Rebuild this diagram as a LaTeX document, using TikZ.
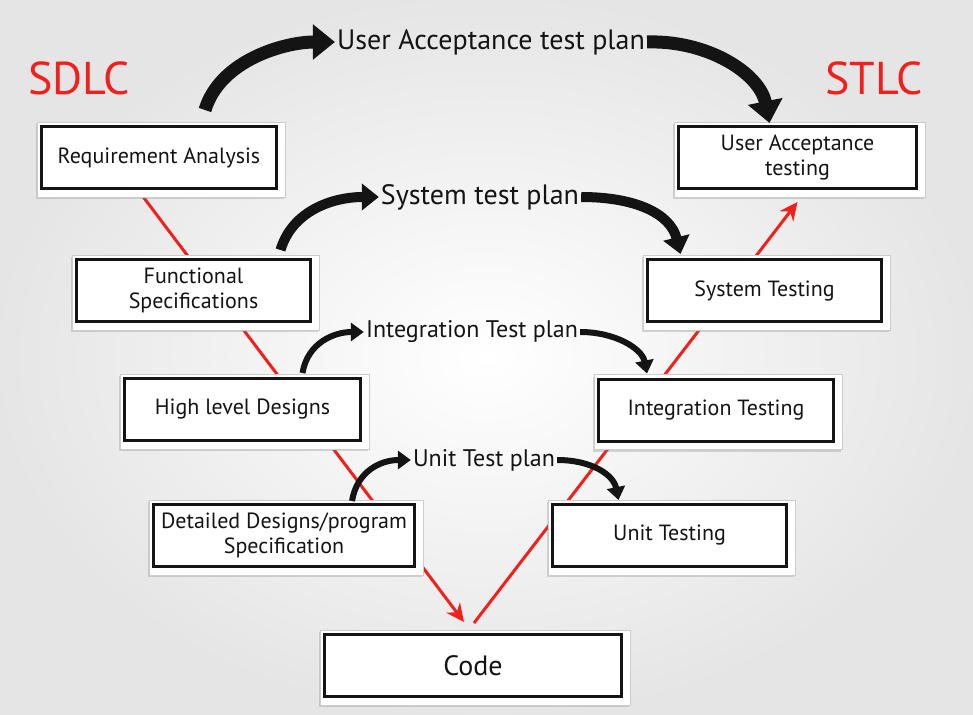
\documentclass[tikz,border=0pt]{standalone}
\usepackage{fontspec}
\setmainfont{PT Sans}
\usetikzlibrary{arrows.meta,calc,fit,shadows}
\pgfdeclarelayer{bgl}\pgfdeclarelayer{lines}\pgfdeclarelayer{paper}
\pgfsetlayers{bgl,lines,paper,main}
\definecolor{vred}{RGB}{240,32,28}
\definecolor{ink}{RGB}{20,20,20}
\tikzset{
 box/.style={draw=ink, line width=3pt, fill=white, align=center, font=\fontsize{22}{25}\selectfont, text=ink, inner sep=2pt, minimum height=62pt},
 paper/.style={fill=white, draw=gray!40, line width=0.7pt, inner sep=5pt, xshift=2pt, yshift=-2pt, drop shadow={shadow xshift=-1.5pt, shadow yshift=-2pt, opacity=0.3}},
 planbig/.style={font=\fontsize{28}{32}\selectfont, text=ink, inner sep=2pt},
 plansmall/.style={font=\fontsize{24}{28}\selectfont, text=ink, inner sep=2pt},
 redline/.style={draw=vred, line width=3pt, -{Stealth[length=18pt,width=17pt]}},
 bigarrow/.style={draw=ink, line width=13pt, -{Triangle[length=22pt,width=34pt]}},
 medarrow/.style={draw=ink, line width=10pt, -{Triangle[length=17pt,width=26pt]}},
 smallarrow/.style={draw=ink, line width=6pt, -{Triangle[length=13pt,width=18pt]}},
 title/.style={font=\fontsize{46}{50}\selectfont, text=vred}
}
\begin{document}
\begin{tikzpicture}[x=1pt,y=-1pt]
\useasboundingbox (0,0) rectangle (973,714);
\begin{pgfonlayer}{bgl}
\shade[inner color=white, outer color=gray!20] (0,0) rectangle (973,714);
\end{pgfonlayer}

\node[title] (sdlc) at (79,78) {SDLC};
\node[title] (stlc) at (874,78) {STLC};

\node[box, minimum width=235pt] (req) at (159,157.5) {Requirement Analysis};
\node[box, minimum width=238pt] (uat) at (797.5,157.5) {User Acceptance\\testing};
\node[box, minimum width=234pt] (fun) at (193.5,290.5) {Functional\\Specifications};
\node[box, minimum width=234pt] (st) at (764.5,290.5) {System Testing};
\node[box, minimum width=236pt] (hld) at (242.5,409.5) {High level Designs};
\node[box, minimum width=235pt] (it) at (716,410) {Integration Testing};
\node[box, minimum width=261pt] (dd) at (284,535.5) {Detailed Designs/program\\Specification};
\node[box, minimum width=234pt] (ut) at (669.5,535.5) {Unit Testing};
\node[box, minimum width=297pt, font=\fontsize{28}{32}\selectfont] (code) at (473,665.5) {Code};

\begin{pgfonlayer}{paper}
\foreach \n in {req,uat,fun,st,hld,it,dd,ut,code} \node[paper, fit=(\n)] {};
\end{pgfonlayer}

\begin{pgfonlayer}{lines}
\draw[redline] ($(req.south)+(-21,0)$) -- ($(code.north)+(-9,-11)$);
\draw[redline] ($(code.north)+(1,-10)$) -- ($(uat.south)+(0,12)$);
\end{pgfonlayer}

\node[planbig] (uatp) at (491,42) {User Acceptance test plan};
\node[planbig] (syst) at (480,197) {System test plan};
\node[plansmall] (itp) at (472,332) {Integration Test plan};
\node[plansmall] (utp) at (484,460) {Unit Test plan};

\draw[bigarrow] ($(req.north)+(46,-15)$) .. controls +(15,-50) and +(-50,0) .. (uatp.west);
\draw[bigarrow] (uatp.east) .. controls +(60,-2) and +(-10,-50) .. ($(uat.north)+(-28,-2)$);
\draw[medarrow] ($(fun.north)+(87,-8)$) .. controls +(12,-40) and +(-45,0) .. (syst.west);
\draw[medarrow] (syst.east) .. controls +(55,0) and +(-10,-40) .. ($(st.north)+(-84,-4)$);
\draw[smallarrow] ($(hld.north)+(60,-4)$) .. controls +(5,-30) and +(-30,0) .. (itp.west);
\draw[smallarrow] (itp.east) .. controls +(35,0) and +(-5,-25) .. ($(it.north)+(-69,-4)$);
\draw[smallarrow] ($(dd.north)+(68,-2)$) .. controls +(5,-30) and +(-30,0) .. (utp.west);
\draw[smallarrow] (utp.east) .. controls +(35,0) and +(-5,-25) .. ($(ut.north)+(-51,-3)$);
\end{tikzpicture}
\end{document}
